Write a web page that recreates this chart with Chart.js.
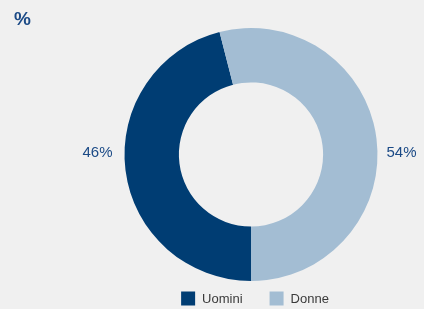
<!DOCTYPE html>
<html lang="it">
<head>
    <meta charset="UTF-8">
    <title>Uomini / Donne</title>
    <script src="https://cdn.jsdelivr.net/npm/chart.js"></script>
    <style>
        html, body {
            margin: 0;
            padding: 0;
            background-color: #f0f0f0;
        }
        .chart-container {
            width: 424px;
            height: 309px;
        }
    </style>
</head>
<body>

<div class="chart-container">
    <canvas id="genderChart"></canvas>
</div>

<script>
    // Data
    const categories = ['Uomini', 'Donne'];
    const values = [46, 54];
    const colors = ['#003d73', '#a3bdd3'];

    const FONT = '"Liberation Sans", Arial, sans-serif';

    // draws the "%" heading, the outside percentage labels and the legend
    const labelPlugin = {
        id: 'labelPlugin',
        afterDraw(chart) {
            const ctx = chart.ctx;
            ctx.save();
            ctx.fillStyle = '#1b4a86';
            ctx.font = 'bold 19px ' + FONT;
            ctx.textAlign = 'left';
            ctx.textBaseline = 'middle';
            ctx.fillText('%', 14, 20);

            const arcs = chart.getDatasetMeta(0).data;
            ctx.font = '15px ' + FONT;
            ctx.textAlign = 'center';
            arcs.forEach((arc, i) => {
                const mid = (arc.startAngle + arc.endAngle) / 2;
                const side = Math.cos(mid) < 0 ? -1 : 1;
                const x = arc.x + side * (arc.outerRadius + (side < 0 ? 27 : 24));
                ctx.fillText(values[i] + '%', x, arc.y - 2);
            });

            // legend along the bottom
            ctx.font = '13px ' + FONT;
            ctx.textAlign = 'left';
            const box = 14, gapText = 7, gapItem = 27;
            const widths = categories.map(c => box + gapText + ctx.measureText(c).width);
            const total = widths.reduce((a, b) => a + b, 0) + gapItem * (categories.length - 1);
            let x = chart.chartArea.left + chart.chartArea.width / 2 + 4 - total / 2;
            const y = 298.5;
            categories.forEach((c, i) => {
                ctx.fillStyle = colors[i];
                ctx.fillRect(x, y - box / 2, box, box);
                ctx.fillStyle = '#3a3a3a';
                ctx.fillText(c, x + box + gapText, y + 1);
                x += widths[i] + gapItem;
            });
            ctx.restore();
        }
    };

    new Chart(document.getElementById('genderChart'), {
        type: 'doughnut',
        data: {
            labels: categories,
            datasets: [{
                data: values,
                backgroundColor: colors,
                borderWidth: 0
            }]
        },
        options: {
            responsive: true,
            maintainAspectRatio: false,
            animation: false,
            rotation: 180,
            cutout: '57%',
            layout: {
                padding: { left: 78, top: 28, bottom: 28 }
            },
            plugins: {
                legend: { display: false },
                tooltip: { enabled: false }
            }
        },
        plugins: [labelPlugin]
    });
</script>

</body>
</html>
